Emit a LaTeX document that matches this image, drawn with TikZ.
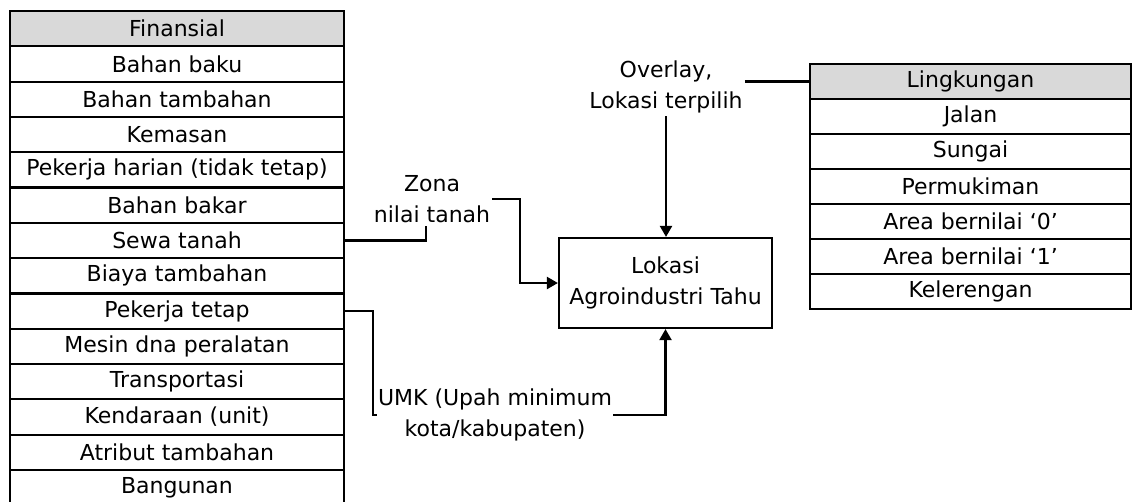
\documentclass[tikz,border=0pt]{standalone}
\usepackage{fontspec}
\setmainfont{DejaVu Sans}
\usetikzlibrary{arrows.meta,calc}
\definecolor{headgray}{HTML}{D9D9D9}
\begin{document}
\begin{tikzpicture}[x=1pt,y=-1pt,
  font=\fontsize{22}{30.5}\selectfont,
  line/.style={line width=2.2pt,black},
  arr/.style={line width=2.2pt,black,-{Triangle[length=11pt,width=12pt]}},
  frow/.style={draw,line width=2.2pt,minimum width=334pt,minimum height=35.3pt,inner sep=0pt,anchor=center},
  lrow/.style={draw,line width=2.2pt,minimum width=321pt,minimum height=35pt,inner sep=0pt,anchor=center},
  head/.style={fill=headgray},
  lbl/.style={align=center,inner xsep=2pt,inner ysep=3pt}]
\useasboundingbox (0,0) rectangle (1132,501);

% Financial factors table
\foreach [count=\i from 0] \t in {Finansial,Bahan baku,Bahan tambahan,Kemasan,Pekerja harian (tidak tetap),Bahan bakar,Sewa tanah,Biaya tambahan,Pekerja tetap,Mesin dna peralatan,Transportasi,Kendaraan (unit),Atribut tambahan,Bangunan}{
  \ifnum\i=0
    \node[frow,head] (f\i) at (177,{11+35.3*(\i+0.5)}) {\t};
  \else
    \node[frow] (f\i) at (177,{11+35.3*(\i+0.5)}) {\t};
  \fi
}

% Environmental factors table
\foreach [count=\i from 0] \t in {Lingkungan,Jalan,Sungai,Permukiman,Area bernilai `0',Area bernilai `1',Kelerengan}{
  \ifnum\i=0
    \node[lrow,head] (l\i) at (970.5,{64+35*(\i+0.5)}) {\t};
  \else
    \node[lrow] (l\i) at (970.5,{64+35*(\i+0.5)}) {\t};
  \fi
}

% Central decision box
\node[draw,line width=2.2pt,minimum width=213pt,minimum height=90pt,align=center] (box) at (665.5,283) {Lokasi\\Agroindustri Tahu};

% Connector labels
\node[lbl] (overlay) at (666,87) {Overlay,\\Lokasi terpilih};
\node[lbl] (zona) at (432,199) {Zona\\nilai tanah};
\node[lbl,inner xsep=1pt] (umk) at (495,415) {UMK (Upah minimum\\kota/kabupaten)};

% Connectors
\draw[line] (l0.west -| overlay.east) -- (l0.west);
\draw[arr] (overlay.south) -- (overlay.south |- box.north);

\draw[line] (f6.east) -| ([xshift=-6pt]zona.south);
\draw[arr] (zona.east) -- ++(28,0) |- (box.west);

\draw[line] (f8.east) -| ([xshift=-4pt]umk.west) -- (umk.west);
\draw[arr] (umk.east) -| (box.south);
\end{tikzpicture}
\end{document}
